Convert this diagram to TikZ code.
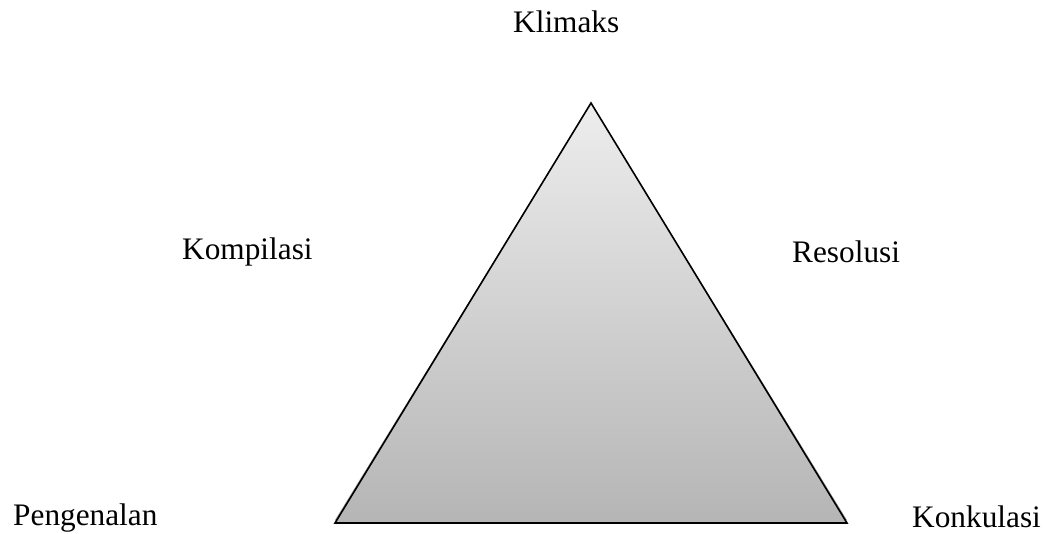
\documentclass[tikz,border=0pt]{standalone}
\usepackage{fontspec}
\setmainfont{Liberation Serif}
\begin{document}
\begin{tikzpicture}[x=1pt,y=-1pt]
  \tikzset{stage/.style={anchor=base west, inner sep=0pt, font=\fontsize{31.3}{37}\selectfont}}
  \useasboundingbox (0,0) rectangle (1047,534);
    \coordinate (puncak) at (591,103);
    \coordinate (kiri) at (335,523);
    \coordinate (kanan) at (847,523);

    % bayangan
    \fill[gray!70] ([yshift=3pt]kiri) -- ([yshift=3pt]kanan) -- (puncak) -- cycle;
    \shade[top color=black!7, bottom color=black!29, draw=black, line width=1.6pt, line join=miter]
      (puncak) -- (kiri) -- (kanan) -- cycle;

    \node[stage] at (513,33) (klimaks) {Klimaks};
    \node[stage] at (182,260) (kompilasi) {Kompilasi};
    \node[stage] at (792,263) (resolusi) {Resolusi};
    \node[stage] at (13,525) (pengenalan) {Pengenalan};
    \node[stage] at (912,527) (konkulasi) {Konkulasi};
\end{tikzpicture}
\end{document}
